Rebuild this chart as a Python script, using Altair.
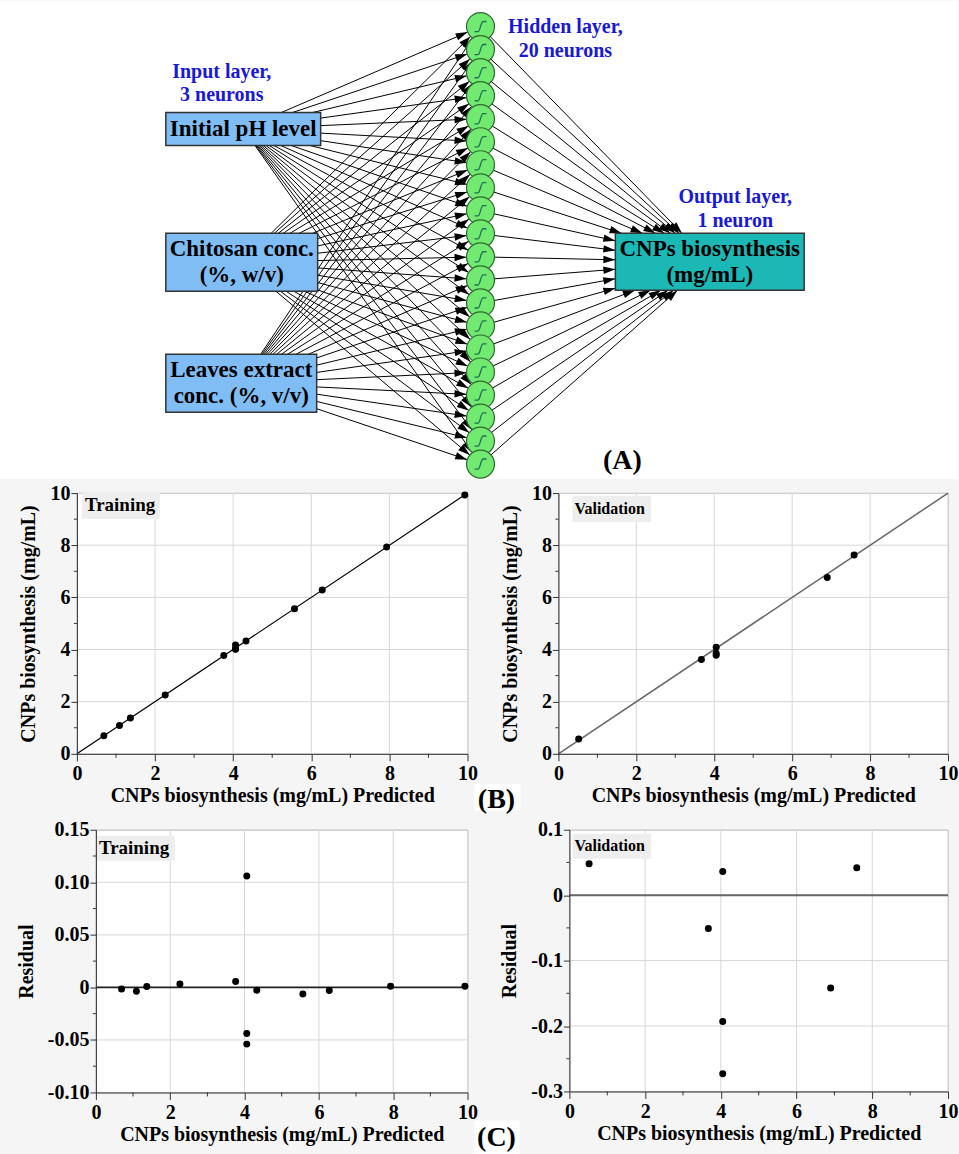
import math
import altair as alt
import pandas as pd

SERIF = "Liberation Serif"
PANEL_BG = "#f5f5f5"
GRID = "#d7d7d7"
INK = "#333333"

# ---------------- network layout (units of the top panel) ----------------
NET_W, NET_H = 959, 479
input_labels = ["Initial pH level", "Chitosan conc.\n(%, w/v)", "Leaves extract\nconc. (%, v/v)"]
input_left = [166, 166, 166]
input_right = [321, 318, 317]
input_top = [112, 233, 354]
input_bottom = [145, 291, 412]
hidden_count = 20
hidden_col = 481
hidden_first, hidden_last = 26, 464
neuron_radius = 14
output_label = ["CNPs biosynthesis\n(mg/mL)"]
output_left, output_right, output_top, output_bottom = 616, 805, 233, 290
layer_captions = ["Input layer,\n3 neurons", "Hidden layer,\n20 neurons", "Output layer,\n1 neuron"]
caption_x = [222, 566, 736]
caption_y = [71, 26, 197]          # centre of the first caption line
panel_a = ["(A)"]
BOX_LINE = 26

# ---------------- model fit: predicted / actual / residual ----------------
train_pred = [0.69, 1.09, 1.37, 2.26, 3.76, 4.06, 4.06, 4.06, 4.33, 5.57, 6.28, 7.93, 9.93]
train_actual = [0.69, 1.09, 1.37, 2.26, 3.77, 4.17, 4.02, 4.01, 4.33, 5.56, 6.28, 7.93, 9.93]
train_resid = [-0.0015, -0.0037, 0.0008, 0.0033, 0.0055, 0.106, -0.044, -0.054,
               -0.0027, -0.0062, -0.0030, 0.0010, 0.0010]

val_pred = [0.52, 3.67, 4.05, 4.05, 4.05, 6.90, 7.59]
val_actual = [0.57, 3.62, 4.09, 3.86, 3.78, 6.76, 7.63]
val_resid = [0.048, -0.051, 0.036, -0.193, -0.273, -0.142, 0.042]

fit_ticks = [0, 2, 4, 6, 8, 10]
fit_minor = [1, 3, 5, 7, 9]
identity = [0, 10]
res_train_ticks = [-0.1, -0.05, 0, 0.05, 0.1, 0.15]
res_train_minor = [-0.075, -0.025, 0.025, 0.075, 0.125]
res_val_ticks = [-0.3, -0.2, -0.1, 0, 0.1]
res_val_minor = [-0.25, -0.15, -0.05, 0.05]

ONE = pd.DataFrame({"k": [0]})

# ======================= network diagram =======================
hidden_y = [hidden_first + i * (hidden_last - hidden_first) / (hidden_count - 1)
            for i in range(hidden_count)]

in_rows = []
for k in range(len(input_labels)):
    cx = (input_left[k] + input_right[k]) / 2
    cy = (input_top[k] + input_bottom[k]) / 2
    for hy in hidden_y:
        dx, dy = hidden_col - cx, hy - cy
        d = math.hypot(dx, dy)
        in_rows.append(dict(x=cx, y=cy,
                            x2=hidden_col - neuron_radius * dx / d,
                            y2=hy - neuron_radius * dy / d,
                            ang=math.degrees(math.atan2(dy, dx)) % 360))

ocx = (output_left + output_right) / 2
ocy = (output_top + output_bottom) / 2
hw = (output_right - output_left) / 2
hh = (output_bottom - output_top) / 2
out_rows = []
for hy in hidden_y:
    dx, dy = ocx - hidden_col, ocy - hy
    t = min(hw / abs(dx), hh / abs(dy) if dy else float("inf"))
    out_rows.append(dict(x=hidden_col, y=hy, x2=ocx - t * dx, y2=ocy - t * dy,
                         ang=math.degrees(math.atan2(dy, dx)) % 360))


def first_line_y(top, bottom, label):
    n = label.count("\n") + 1
    return (top + bottom) / 2 - (n - 1) * BOX_LINE / 2


edges = pd.DataFrame(in_rows + out_rows)
neurons = pd.DataFrame({"x": [hidden_col] * hidden_count, "y": hidden_y})
inputs = pd.DataFrame({"x1": input_left, "x2": input_right, "y1": input_top, "y2": input_bottom,
                       "cx": [(a + b) / 2 for a, b in zip(input_left, input_right)],
                       "cy": [first_line_y(a, b, s) for a, b, s in
                              zip(input_top, input_bottom, input_labels)],
                       "label": input_labels})
outputs = pd.DataFrame({"x1": [output_left], "x2": [output_right], "y1": [output_top],
                        "y2": [output_bottom], "cx": [ocx],
                        "cy": [first_line_y(output_top, output_bottom, output_label[0])],
                        "label": output_label})
captions = pd.DataFrame({"x": caption_x, "y": caption_y, "label": layer_captions})
tag_a = pd.DataFrame({"x": [623], "y": [461], "label": panel_a})

NX = alt.Scale(domain=[0, NET_W], nice=False, zero=False)
NY = alt.Scale(domain=[0, NET_H], reverse=True, nice=False, zero=False)
ARROW = "M0,0 L-2.4,-0.75 L-2.4,0.75 Z"
SIGMOID = "M-1,0.85 L-0.45,0.85 C0,0.85 0,-0.85 0.45,-0.85 L1,-0.85"


def nx(f):
    return alt.X(f, scale=NX, axis=None)


def ny(f):
    return alt.Y(f, scale=NY, axis=None)


paper = alt.Chart(ONE).mark_rect(color="white").encode(
    x=alt.value(0), x2=alt.value(NET_W), y=alt.value(0), y2=alt.value(NET_H))
links = alt.Chart(edges).mark_rule(color="black", strokeWidth=1).encode(
    x=nx("x:Q"), y=ny("y:Q"), x2="x2:Q", y2="y2:Q")
heads = alt.Chart(edges).mark_point(shape=ARROW, filled=True, size=100, color="black",
                                    opacity=1).encode(
    x=nx("x2:Q"), y=ny("y2:Q"), angle=alt.Angle("ang:Q", scale=None))
in_boxes = alt.Chart(inputs).mark_rect(fill="#80bdf5", stroke=INK, strokeWidth=1.5).encode(
    x=nx("x1:Q"), x2="x2:Q", y=ny("y1:Q"), y2="y2:Q")
out_box = alt.Chart(outputs).mark_rect(fill="#1cb8b6", stroke=INK, strokeWidth=1.5).encode(
    x=nx("x1:Q"), x2="x2:Q", y=ny("y1:Q"), y2="y2:Q")
box_text = alt.Chart(pd.concat([inputs, outputs])).mark_text(
    font=SERIF, fontSize=23, fontWeight="bold", color="black", lineBreak="\n",
    lineHeight=BOX_LINE, align="center", baseline="middle").encode(
    x=nx("cx:Q"), y=ny("cy:Q"), text="label:N")
discs = alt.Chart(neurons).mark_point(shape="circle", filled=True, size=784, fill="#72ea72",
                                      stroke="#2d6a2d", strokeWidth=1.2, opacity=1).encode(
    x=nx("x:Q"), y=ny("y:Q"))
glyphs = alt.Chart(neurons).mark_point(shape=SIGMOID, filled=False, size=144, color="#1f6e58",
                                       strokeWidth=1.3, opacity=1).encode(
    x=nx("x:Q"), y=ny("y:Q"))
caption_text = alt.Chart(captions).mark_text(
    font=SERIF, fontSize=20, fontWeight="bold", color="#1818d8", lineBreak="\n",
    lineHeight=24, align="center", baseline="middle").encode(
    x=nx("x:Q"), y=ny("y:Q"), text="label:N")
a_text = alt.Chart(tag_a).mark_text(font=SERIF, fontSize=28, fontWeight="bold", color="black",
                                    align="center", baseline="middle").encode(
    x=nx("x:Q"), y=ny("y:Q"), text="label:N")

net = alt.layer(paper, links, heads, in_boxes, out_box, box_text, discs, glyphs, caption_text,
                a_text).properties(width=NET_W, height=NET_H)

# ======================= scatter panels =======================
AXIS_STYLE = dict(grid=False, zindex=1, domainColor=INK, domainWidth=1, tickColor=INK,
                  tickWidth=1, labelFont=SERIF, labelFontSize=20, labelFontWeight="bold",
                  labelColor="black", labelFlush=False, labelOverlap=False, titleFont=SERIF,
                  titleFontSize=20, titleFontWeight="bold", titleColor="black")
FIT_SCALE = alt.Scale(domain=[0, 10], nice=False, zero=False)
X_AXIS = alt.Axis(values=fit_ticks, title="CNPs biosynthesis (mg/mL) Predicted",
                  tickSize=7, labelPadding=3, titlePadding=2, **AXIS_STYLE)


def y_axis(values, label_expr, title):
    return alt.Axis(values=values, title=title, labelExpr=label_expr, tickSize=6,
                    labelPadding=1, titlePadding=11, **AXIS_STYLE)


def panel(xs, ys, ysc, yax, yticks, yminor, w, h, ref_layer, tag, tag_size, tag_box,
          tag_pos, letter=None):
    def X(f):
        return alt.X(f, scale=FIT_SCALE, axis=X_AXIS)

    def Y(f):
        return alt.Y(f, scale=ysc, axis=yax)

    layers = [
        # grid at the labelled ticks
        alt.Chart(pd.DataFrame({"g": fit_ticks})).mark_rule(color=GRID, strokeWidth=1).encode(
            x=X("g:Q")),
        alt.Chart(pd.DataFrame({"g": yticks})).mark_rule(color=GRID, strokeWidth=1).encode(
            y=Y("g:Q")),
        # minor ticks outside the frame
        alt.Chart(pd.DataFrame({"m": fit_minor})).mark_rule(color=INK, strokeWidth=1).encode(
            x=X("m:Q"), y=alt.value(h), y2=alt.value(h + 4)),
        alt.Chart(pd.DataFrame({"m": yminor})).mark_rule(color=INK, strokeWidth=1).encode(
            y=Y("m:Q"), x=alt.value(-3), x2=alt.value(0)),
        ref_layer(X, Y),
        alt.Chart(pd.DataFrame({"x": xs, "y": ys})).mark_circle(
            size=49, color="black", opacity=1).encode(x=X("x:Q"), y=Y("y:Q")),
    ]
    bx1, bx2, by1, by2 = tag_box
    layers.append(alt.Chart(ONE).mark_rect(color="#eeeeee").encode(
        x=alt.value(bx1), x2=alt.value(bx2), y=alt.value(by1), y2=alt.value(by2)))
    layers.append(alt.Chart(ONE).mark_text(
        font=SERIF, fontSize=tag_size, fontWeight="bold", color="black", align="left",
        baseline="middle").encode(x=alt.value(tag_pos[0]), y=alt.value(tag_pos[1]),
                                  text=alt.value(tag)))
    if letter is not None:
        text, (cx, cy), (lx1, lx2, ly1, ly2) = letter
        layers.append(alt.Chart(ONE).mark_rect(color="white").encode(
            x=alt.value(lx1), x2=alt.value(lx2), y=alt.value(ly1), y2=alt.value(ly2)))
        layers.append(alt.Chart(ONE).mark_text(
            font=SERIF, fontSize=28, fontWeight="bold", color="black", align="center",
            baseline="middle").encode(x=alt.value(cx), y=alt.value(cy), text=alt.value(text)))
    return alt.layer(*layers).properties(
        width=w, height=h,
        view=alt.ViewBackground(fill="white", stroke="#c4c4c4", strokeWidth=1))


def spacer(w, top, bottom):
    # empty block that fixes a row's left margin and its vertical extent
    return alt.Chart(ONE).mark_rect(opacity=0).encode(
        x=alt.value(0), x2=alt.value(w), y=alt.value(top), y2=alt.value(bottom)
    ).properties(width=w, height=10)


def identity_line(color, width):
    def build(X, Y):
        return alt.Chart(pd.DataFrame({"p": identity, "a": identity})).mark_line(
            color=color, strokeWidth=width).encode(x=X("p:Q"), y=Y("a:Q"))
    return build


def zero_line(color, width):
    def build(X, Y):
        return alt.Chart(pd.DataFrame({"z": [0]})).mark_rule(
            color=color, strokeWidth=width).encode(y=Y("z:Q"))
    return build


fit_y_axis = y_axis(fit_ticks, "datum.label", "CNPs biosynthesis (mg/mL)")

b_left = panel(train_pred, train_actual, FIT_SCALE, fit_y_axis, fit_ticks, fit_minor, 391, 261,
               identity_line("black", 1.2), "Training", 19, (5, 83, -1, 26), (8, 12))
b_right = panel(val_pred, val_actual, FIT_SCALE, fit_y_axis, fit_ticks, fit_minor, 390, 261,
                identity_line("#666666", 1.5), "Validation", 16, (14, 93, 3, 29), (16, 16),
                letter=("(B)", (-62, 307), (-84, -38, 291, 318)))

res_train_scale = alt.Scale(domain=[-0.1, 0.15], nice=False, zero=False)
res_val_scale = alt.Scale(domain=[-0.3, 0.1], nice=False, zero=False)

res_train_axis = y_axis(
    res_train_ticks,
    "abs(datum.value) < 1e-9 ? '0' : (datum.value < 0 ? '-' : '') + format(abs(datum.value), '.2f')",
    "Residual")
res_val_axis = y_axis(
    res_val_ticks,
    "abs(datum.value) < 1e-9 ? '0' : (datum.value < 0 ? '-' : '') + format(abs(datum.value), '.1f')",
    "Residual")

c_left = panel(train_pred, train_resid, res_train_scale, res_train_axis, res_train_ticks,
               res_train_minor, 372, 263, zero_line("#222222", 1.6), "Training", 19,
               (1, 79, 6, 31), (3, 18))
c_right = panel(val_pred, val_resid, res_val_scale, res_val_axis, res_val_ticks,
                res_val_minor, 379, 262, zero_line("#666666", 2), "Validation", 16,
                (3, 82, 4, 29), (5, 16), letter=("(C)", (-73, 309), (-95, -50, 291, 324)))

row_b = alt.hconcat(spacer(77, -12, 318),
                    alt.hconcat(b_left, b_right, spacing=91, bounds="flush"),
                    spacing=0, bounds="flush")
row_c = alt.hconcat(spacer(96, -15, 324),
                    alt.hconcat(c_left, c_right, spacing=102, bounds="flush"),
                    spacing=0, bounds="flush")

chart = alt.vconcat(net, row_b, row_c, spacing=0).properties(
    padding=0, background=PANEL_BG
).configure_view(strokeWidth=0).configure_axis(
    labelFont=SERIF, titleFont=SERIF, labelFontWeight="bold", titleFontWeight="bold")

chart.save("out.html", embed_options={"renderer": "svg", "actions": False})
